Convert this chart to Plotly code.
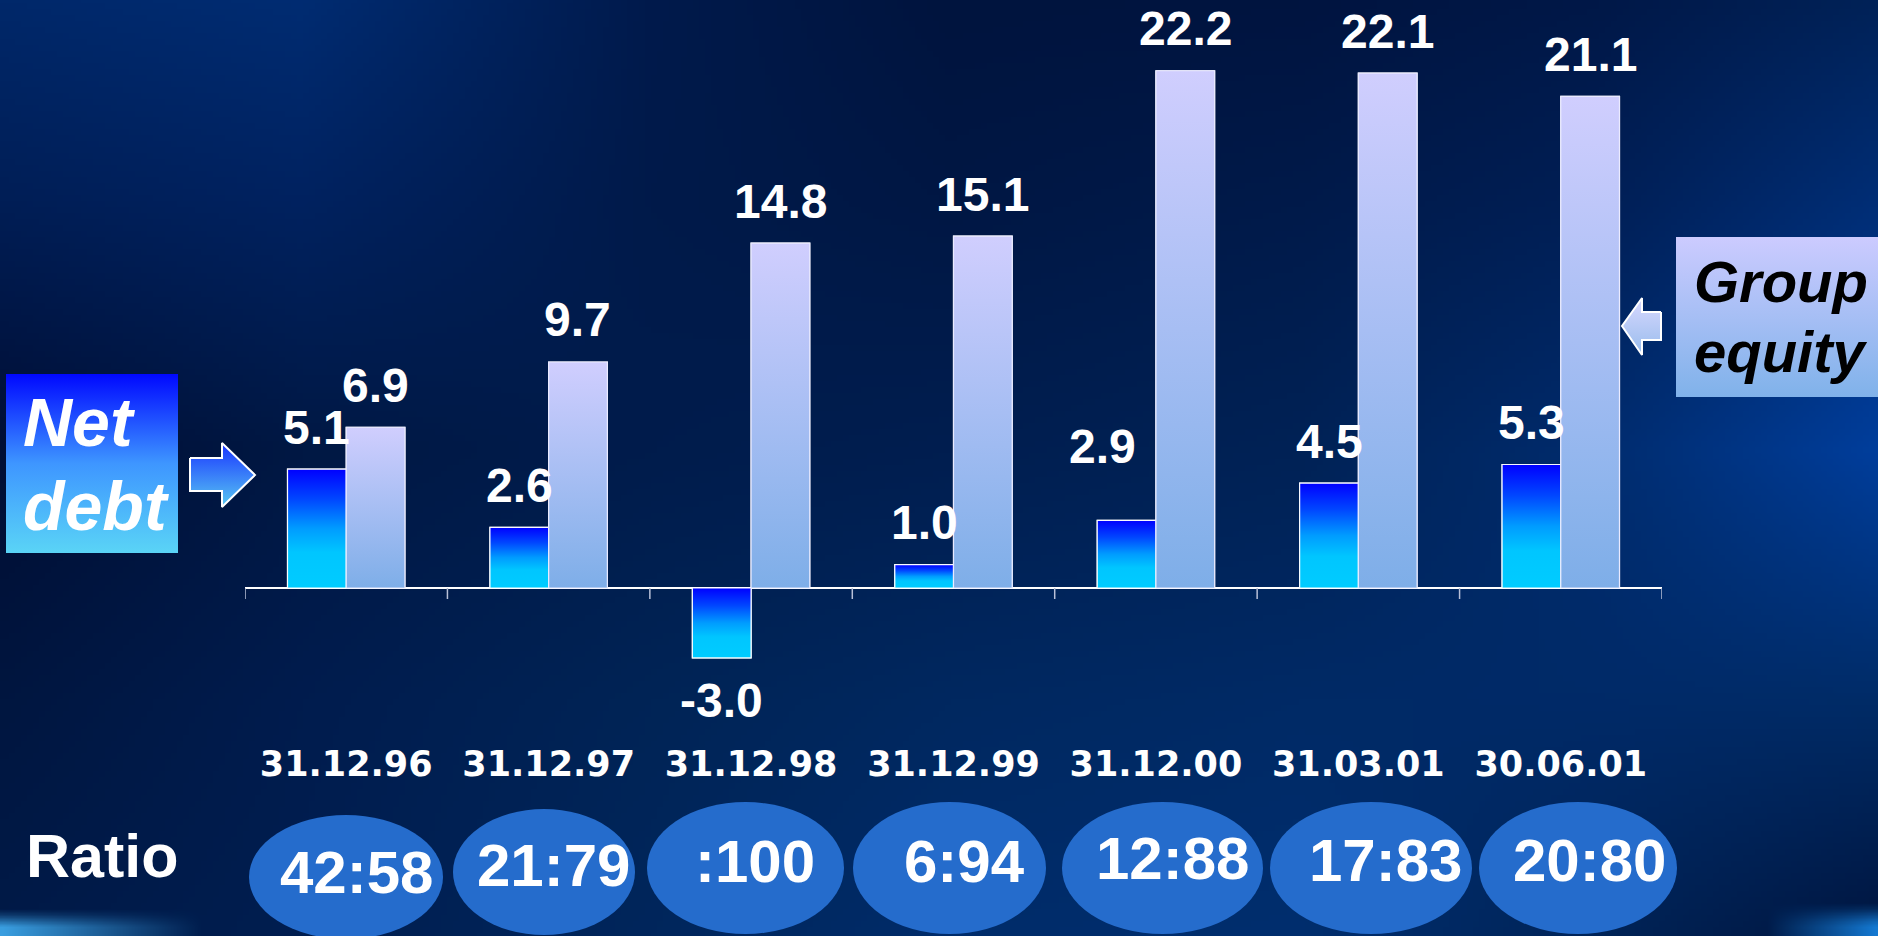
import base64
import struct
import zlib

import numpy as np
import plotly.graph_objects as go

# ---------------- data ----------------
categories = ["31.12.96", "31.12.97", "31.12.98", "31.12.99", "31.12.00", "31.03.01", "30.06.01"]
net_debt = [5.1, 2.6, -3.0, 1.0, 2.9, 4.5, 5.3]
group_equity = [6.9, 9.7, 14.8, 15.1, 22.2, 22.1, 21.1]
ratios = ["42:58", "21:79", ":100", "6:94", "12:88", "17:83", "20:80"]
series_names = ["Net debt", "Group equity"]

# ---------------- canvas / geometry (pixels) ----------------
W, H = 1878, 936
PLOT_L, PLOT_R = 245, 1662          # x-axis extent
PLOT_T, PLOT_B = 20, 740            # plot area top / bottom
ZERO_PX = 588                       # pixel row of value 0
PX_PER_UNIT = 23.3
Y_TOP = (ZERO_PX - PLOT_T) / PX_PER_UNIT
Y_BOT = -(PLOT_B - ZERO_PX) / PX_PER_UNIT
BARGAP = 0.42
BW = (1 - BARGAP) / 2               # width of one bar in category units

NET_SCALE = [[0, "#00ccff"], [0.3, "#00c6ff"], [0.5, "#009cff"], [0.75, "#0046ff"], [1, "#0000ff"]]
EQ_SCALE = [[0, "#7eaee8"], [1, "#d0cefe"]]
FONT = "Liberation Sans, Arial, sans-serif"


def py(p):
    """pixel row -> overlay y coordinate (y grows upward)"""
    return H - p


# ---------------- background image ----------------
def hex2rgb(h):
    return [int(h[i:i + 2], 16) for i in (1, 3, 5)]


bg_x = np.array([0, 300, 650, 950, 1300, 1600, 1878], float)
bg_y = np.array([0, 200, 450, 700, 936], float)
bg_rows = [
    ["#00286a", "#002c72", "#001a4c", "#00143e", "#001440", "#001848", "#002258"],
    ["#001e56", "#002260", "#001a4a", "#001744", "#001a4a", "#001f56", "#002e76"],
    ["#000e34", "#001844", "#001c4c", "#001e50", "#002256", "#002c6e", "#003e9c"],
    ["#001640", "#001c4e", "#002456", "#002860", "#002a66", "#002a68", "#002c68"],
    ["#001a48", "#001e50", "#00265c", "#002c6a", "#002e6e", "#002458", "#001640"],
]
grid = np.array([[hex2rgb(c) for c in row] for row in bg_rows], float)
bw, bh = 313, 156
xs = np.linspace(0, W, bw)
ys = np.linspace(0, H, bh)
tmp = np.stack([np.stack([np.interp(xs, bg_x, grid[r, :, c]) for c in range(3)], -1)
                for r in range(len(bg_y))])
img = np.stack([np.stack([np.interp(ys, bg_y, tmp[:, j, c]) for c in range(3)], -1)
                for j in range(bw)], 1)
X, Y = np.meshgrid(xs, ys)
w1 = (np.clip((Y - 914) / 16, 0, 1) * np.clip(1 - X / 200, 0, 1))[..., None]
img = img * (1 - w1) + np.array(hex2rgb("#3a9ee0")) * w1
w2 = (np.clip((Y - 908) / 20, 0, 1) * np.clip((X - 1770) / 108, 0, 1))[..., None]
img = img * (1 - w2) + np.array(hex2rgb("#1478d0")) * w2
img = np.clip(img, 0, 255).astype(np.uint8)


def png_bytes(arr):
    h, w, _ = arr.shape
    raw = b"".join(b"\x00" + arr[i].tobytes() for i in range(h))

    def chunk(t, d):
        c = struct.pack(">I", len(d)) + t + d
        return c + struct.pack(">I", zlib.crc32(t + d) & 0xFFFFFFFF)

    return (b"\x89PNG\r\n\x1a\n"
            + chunk(b"IHDR", struct.pack(">IIBBBBB", w, h, 8, 2, 0, 0, 0))
            + chunk(b"IDAT", zlib.compress(raw, 9))
            + chunk(b"IEND", b""))


bg_uri = "data:image/png;base64," + base64.b64encode(png_bytes(img)).decode()

# ---------------- figure ----------------
idx = list(range(len(categories)))
fig = go.Figure()

fig.add_trace(go.Bar(x=idx, y=net_debt, name=series_names[0], marker=dict(color="#0090ff", line=dict(color="white", width=1.2))))
fig.add_trace(go.Bar(x=idx, y=group_equity, name=series_names[1], marker=dict(color="#a8bef4", line=dict(color="white", width=1.2))))

# gradient faces of the bars, computed from the same values
for i, v in enumerate(net_debt):
    x0, x1 = i - BW, i
    fig.add_trace(go.Scatter(x=[x0, x1, x1, x0, x0], y=[0, 0, v, v, 0], mode="lines", fill="toself",
                             fillgradient=dict(type="vertical", colorscale=NET_SCALE),
                             line=dict(color="rgba(255,255,255,0.95)", width=1.2),
                             hoverinfo="skip", showlegend=False))
for i, v in enumerate(group_equity):
    x0, x1 = i, i + BW
    fig.add_trace(go.Scatter(x=[x0, x1, x1, x0, x0], y=[0, 0, v, v, 0], mode="lines", fill="toself",
                             fillgradient=dict(type="vertical", colorscale=EQ_SCALE),
                             line=dict(color="rgba(235,235,255,0.95)", width=1.2),
                             hoverinfo="skip", showlegend=False))

# value labels
label_tweaks = {(0, 4): (-24, 32)}   # (series, category) -> (xshift, extra yshift)
annotations = []
for s, vals in enumerate([net_debt, group_equity]):
    for i, v in enumerate(vals):
        xs_, ys_ = label_tweaks.get((s, i), (0, 0))
        annotations.append(dict(
            x=i + (BW / 2 if s else -BW / 2), y=v, xref="x", yref="y",
            text=f"{v:.1f}", showarrow=False, xanchor="center", yanchor="middle",
            xshift=xs_, yshift=(42 if v >= 0 else -43) + ys_,
            font=dict(family=FONT, size=48, color="white", weight="bold")))

# ---------------- decorations on a full-canvas pixel overlay ----------------
def poly(points, scale, lw, lc):
    return go.Scatter(x=[p[0] for p in points] + [points[0][0]],
                      y=[py(p[1]) for p in points] + [py(points[0][1])],
                      xaxis="x3", yaxis="y3", mode="lines", fill="toself",
                      fillgradient=dict(type="vertical", colorscale=scale),
                      line=dict(color=lc, width=lw), hoverinfo="skip", showlegend=False)


fig.add_trace(poly([(6, 374), (178, 374), (178, 553), (6, 553)],
                   [[0, "#5ad4f6"], [0.5, "#3e96ff"], [1, "#0008ff"]], 0, "rgba(0,0,0,0)"))
fig.add_trace(poly([(1676, 237), (1880, 237), (1880, 397), (1676, 397)],
                   [[0, "#80b2ea"], [1, "#cccbff"]], 0, "rgba(0,0,0,0)"))
fig.add_trace(poly([(190, 458), (222, 458), (222, 443), (255, 475), (222, 507), (222, 491), (190, 491)],
                   [[0, "#58c8f2"], [1, "#1a34ff"]], 2, "white"))
fig.add_trace(poly([(1661, 312), (1642, 312), (1642, 298), (1622, 326), (1642, 355), (1642, 340), (1661, 340)],
                   [[0, "#98bcec"], [1, "#d8d8ff"]], 2, "white"))


def pix_text(x, y, text, size, color, anchor="left", italic=False):
    return dict(x=x, y=py(y), xref="x3", yref="y3", text=text, showarrow=False,
                xanchor=anchor, yanchor="middle",
                font=dict(family=FONT, size=size, color=color, weight="bold",
                          style="italic" if italic else "normal"))


annotations += [
    pix_text(21, 422, "Net", 68, "white", italic=True),
    pix_text(21, 506, "debt", 68, "white", italic=True),
    pix_text(1692, 281, "Group", 58, "black", italic=True),
    pix_text(1692, 351, "equity", 58, "black", italic=True),
    pix_text(24, 856, "Ratio", 61, "white"),
]

ellipses = [(249, 443, 815, 939), (453, 635, 809, 935), (647, 844, 802, 934), (853, 1046, 802, 934),
            (1062, 1263, 802, 934), (1270, 1472, 802, 934), (1479, 1677, 802, 934)]
ratio_pos = [(356, 872), (553, 865), (755, 861), (964, 861), (1172, 858), (1385, 860), (1589, 860)]
shapes = []
for (x0, x1, y0, y1) in ellipses:
    shapes.append(dict(type="circle", xref="x3", yref="y3", x0=x0, x1=x1, y0=py(y1), y1=py(y0),
                       fillcolor="#256ccc", line=dict(width=0), layer="above"))
for t, (cx, cy) in zip(ratios, ratio_pos):
    annotations.append(pix_text(cx, cy, t, 60, "white", anchor="center"))

# boundary tick marks hanging below the zero line
for b in [i - 0.5 for i in range(len(categories) + 1)]:
    shapes.append(dict(type="line", xref="x", yref="y", ysizemode="pixel", yanchor=0,
                       x0=b, x1=b, y0=0, y1=-11, line=dict(color="#b8c0d8", width=1.5)))

fig.update_layout(
    width=W, height=H, autosize=False,
    margin=dict(l=0, r=0, t=0, b=0),
    paper_bgcolor="#00205a", plot_bgcolor="rgba(0,0,0,0)",
    barmode="group", bargap=BARGAP, bargroupgap=0,
    showlegend=False,
    xaxis=dict(domain=[PLOT_L / W, PLOT_R / W], range=[-0.5, len(categories) - 0.5],
               tickmode="array", tickvals=idx, ticktext=categories, ticks="",
               showgrid=False, zeroline=False, showline=False, anchor="y",
               tickfont=dict(family="DejaVu Sans, sans-serif", size=35, color="white", weight="bold")),
    yaxis=dict(domain=[(H - PLOT_B) / H, (H - PLOT_T) / H], range=[Y_BOT, Y_TOP],
               showticklabels=False, showgrid=False, ticks="", zeroline=True,
               zerolinecolor="white", zerolinewidth=1.5, anchor="x"),
    xaxis3=dict(domain=[0, 1], range=[0, W], visible=False, anchor="y3", fixedrange=True),
    yaxis3=dict(domain=[0, 1], range=[0, H], visible=False, anchor="x3", fixedrange=True),
    annotations=annotations,
    shapes=shapes,
    images=[dict(source=bg_uri, xref="paper", yref="paper", x=0, y=1, sizex=1, sizey=1,
                 xanchor="left", yanchor="top", sizing="stretch", layer="below")],
)

fig.write_html("out.html")
